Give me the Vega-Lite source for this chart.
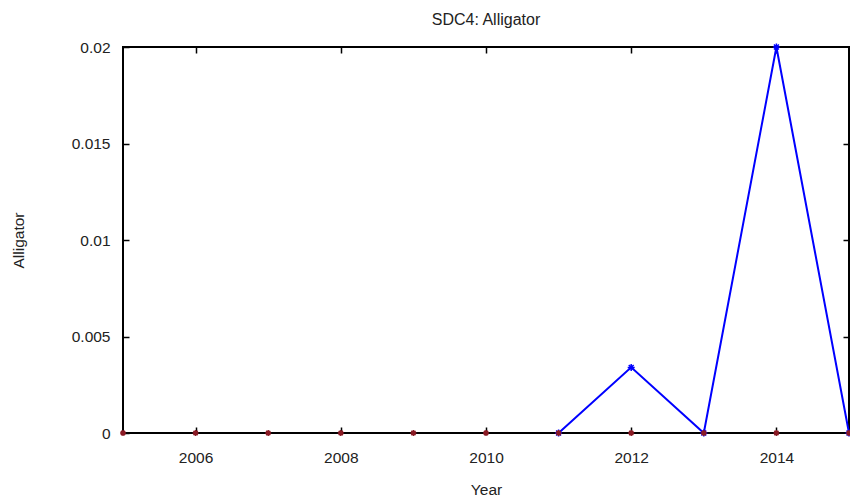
{
  "$schema": "https://vega.github.io/schema/vega-lite/v6.json",
  "width": 726,
  "height": 386,
  "autosize": {"type": "none"},
  "padding": {"left": 123, "top": 47, "right": 1, "bottom": 71},
  "background": "white",
  "title": {"text": "SDC4: Alligator", "font": "Liberation Sans", "fontSize": 16, "fontWeight": "normal", "color": "#222222", "offset": 12},
  "config": {
    "view": {"stroke": "black", "strokeWidth": 2},
    "axis": {
      "labelFont": "Liberation Sans", "labelFontSize": 15.5, "labelColor": "#222222",
      "titleFont": "Liberation Sans", "titleFontSize": 15.5, "titleFontWeight": "normal", "titleColor": "#222222",
      "grid": false, "domain": false, "tickColor": "black", "tickWidth": 1.5, "tickSize": -6, "zindex": 1
    }
  },
  "datasets": {
    "zeros": [
      {"Year": 2005, "Alligator": 0}, {"Year": 2006, "Alligator": 0}, {"Year": 2007, "Alligator": 0},
      {"Year": 2008, "Alligator": 0}, {"Year": 2009, "Alligator": 0}, {"Year": 2010, "Alligator": 0},
      {"Year": 2011, "Alligator": 0}, {"Year": 2012, "Alligator": 0}, {"Year": 2013, "Alligator": 0},
      {"Year": 2014, "Alligator": 0}, {"Year": 2015, "Alligator": 0}
    ],
    "blue": [
      {"Year": 2011, "Alligator": 0}, {"Year": 2012, "Alligator": 0.0034},
      {"Year": 2013, "Alligator": 0}, {"Year": 2014, "Alligator": 0.02}, {"Year": 2015, "Alligator": 0}
    ]
  },
  "layer": [
    {
      "data": {"name": "blue"},
      "mark": {"type": "line", "color": "#0000ff", "strokeWidth": 2,
        "point": {"shape": "M-1,0L1,0M0,-1L0,1M-0.7,-0.7L0.7,0.7M-0.7,0.7L0.7,-0.7", "filled": false, "stroke": "#0000ff", "size": 49, "strokeWidth": 1.5}},
      "encoding": {
        "x": {"field": "Year", "type": "quantitative", "scale": {"domain": [2005, 2015], "nice": false, "zero": false},
          "axis": {"orient": "top", "labels": false, "title": null, "values": [2006, 2008, 2010, 2012, 2014]}},
        "y": {"field": "Alligator", "type": "quantitative", "scale": {"domain": [0, 0.02], "nice": false},
          "axis": {"orient": "right", "labels": false, "title": null, "values": [0.005, 0.01, 0.015]}}
      }
    },
    {
      "data": {"name": "zeros"},
      "mark": {"type": "point", "shape": "M-1,0L1,0M0,-1L0,1M-0.7,-0.7L0.7,0.7M-0.7,0.7L0.7,-0.7", "filled": false, "stroke": "#8a1a24", "size": 36, "strokeWidth": 1.5, "opacity": 1},
      "encoding": {
        "x": {"field": "Year", "type": "quantitative", "scale": {"domain": [2005, 2015], "nice": false, "zero": false},
          "axis": {"orient": "bottom", "title": "Year", "values": [2006, 2008, 2010, 2012, 2014], "format": "d", "labelPadding": 23, "titlePadding": 17}},
        "y": {"field": "Alligator", "type": "quantitative", "scale": {"domain": [0, 0.02], "nice": false},
          "axis": {"orient": "left", "title": "Alligator", "values": [0, 0.005, 0.01, 0.015, 0.02], "format": "~g", "labelPadding": 19, "titlePadding": 45}}
      }
    }
  ],
  "resolve": {"axis": {"x": "independent", "y": "independent"}}
}
